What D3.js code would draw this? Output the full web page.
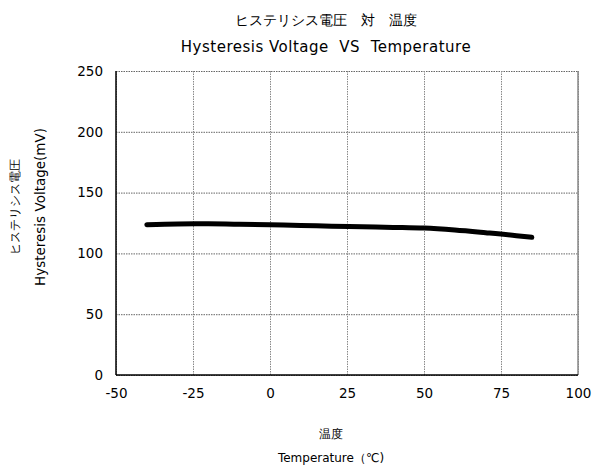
<!DOCTYPE html>
<html>
<head>
<meta charset="utf-8">
<script src="https://cdn.jsdelivr.net/npm/d3@7"></script>
<style>
   body { margin: 0; background: #fff; }
   text { font-family: "DejaVu Sans", Verdana, sans-serif; fill: #000; white-space: pre; }
</style>
</head>
<body>
<div id="chart"></div>
<script>
// Data
const temperatures = [-40, -30, -20, -10, 0, 10, 20, 30, 40, 50, 60, 70, 80, 85];
const hysteresis = [123.6, 124.2, 124.3, 124.0, 123.5, 123.0, 122.4, 121.9, 121.4, 120.8, 119.2, 117.0, 114.6, 113.2];
const xTicks = [-50, -25, 0, 25, 50, 75, 100];
const yTicks = [0, 50, 100, 150, 200, 250];
const titleLines = ["ヒステリシス電圧　対　温度", "Hysteresis Voltage  VS  Temperature"];
const xLabelLines = ["温度", "Temperature（℃)"];
const yLabelLines = ["ヒステリシス電圧", "Hysteresis Voltage(mV)"];

const width = 593, height = 470;
const margin = { top: 71, right: 15, bottom: 95, left: 116 };
const innerW = width - margin.left - margin.right;
const innerH = height - margin.top - margin.bottom;

const svg = d3.select("#chart").append("svg")
   .attr("width", width)
   .attr("height", height);

const x = d3.scaleLinear().domain([-50, 100]).range([0, innerW]);
const y = d3.scaleLinear().domain([0, 250]).range([innerH, 0]);

const g = svg.append("g")
   .attr("transform", "translate(" + margin.left + "," + margin.top + ")");

// Gridlines
g.append("g")
   .attr("class", "grid")
   .call(d3.axisLeft(y).tickValues(yTicks).tickSize(-innerW).tickFormat(""))
   .call(s => s.select(".domain").remove())
   .selectAll("line")
   .attr("stroke", "#666")
   .attr("stroke-dasharray", "1.5,1");

g.append("g")
   .attr("class", "grid")
   .attr("transform", "translate(0," + innerH + ")")
   .call(d3.axisBottom(x).tickValues(xTicks).tickSize(-innerH).tickFormat(""))
   .call(s => s.select(".domain").remove())
   .selectAll("line")
   .attr("stroke", "#888")
   .attr("stroke-dasharray", "1.5,1");

// Right border solid gray
g.append("line")
   .attr("x1", innerW).attr("x2", innerW).attr("y1", 0).attr("y2", innerH)
   .attr("stroke", "#888").attr("stroke-width", 1.5);

// Axes (left and bottom solid)
g.append("line")
   .attr("x1", 0).attr("x2", 0).attr("y1", 0).attr("y2", innerH)
   .attr("stroke", "#000").attr("stroke-width", 1.5);
g.append("line")
   .attr("x1", 0).attr("x2", innerW).attr("y1", innerH).attr("y2", innerH)
   .attr("stroke", "#000").attr("stroke-width", 1.5);

// Tick labels
const yAxis = g.append("g")
   .call(d3.axisLeft(y).tickValues(yTicks).tickSize(0).tickPadding(13).tickFormat(d => String(d)));
yAxis.select(".domain").remove();
yAxis.selectAll("text").style("font-size", "13.5px").style("font-family", "DejaVu Sans, sans-serif");

const xAxis = g.append("g")
   .attr("transform", "translate(0," + innerH + ")")
   .call(d3.axisBottom(x).tickValues(xTicks).tickSize(0).tickPadding(13).tickFormat(d => String(d)));
xAxis.select(".domain").remove();
xAxis.selectAll("text").style("font-size", "13.5px").style("font-family", "DejaVu Sans, sans-serif");

// Data line
const line = d3.line()
   .x((d, i) => x(temperatures[i]))
   .y(d => y(d))
   .curve(d3.curveMonotoneX);

g.append("path")
   .datum(hysteresis)
   .attr("fill", "none")
   .attr("stroke", "#000")
   .attr("stroke-width", 5)
   .attr("stroke-linecap", "round")
   .attr("d", line);

// Titles
svg.selectAll(".title")
   .data(titleLines)
   .enter().append("text")
   .attr("class", "title")
   .attr("x", 326)
   .attr("y", (d, i) => 20 + i * 27)
   .attr("dy", "0.35em")
   .attr("text-anchor", "middle")
   .style("font-size", (d, i) => i === 0 ? "14px" : "15px")
   .style("letter-spacing", (d, i) => i === 0 ? "0px" : "0.5px")
   .text(d => d);

// X label
svg.selectAll(".xlabel")
   .data(xLabelLines)
   .enter().append("text")
   .attr("class", "xlabel")
   .attr("x", 331)
   .attr("y", (d, i) => 434 + i * 24)
   .attr("dy", "0.35em")
   .attr("text-anchor", "middle")
   .style("font-size", "12px")
   .text(d => d);

// Y label
svg.selectAll(".ylabel")
   .data(yLabelLines)
   .enter().append("text")
   .attr("class", "ylabel")
   .attr("transform", (d, i) => "translate(" + (15 + i * 25) + ",207) rotate(-90)")
   .attr("dy", "0.35em")
   .attr("text-anchor", "middle")
   .style("font-size", (d, i) => i === 0 ? "12px" : "13.5px")
   .text(d => d);
</script>
</body>
</html>
